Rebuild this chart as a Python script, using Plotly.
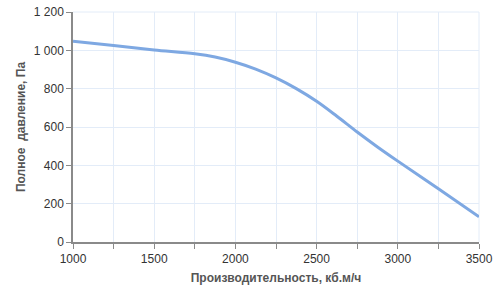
import plotly.graph_objects as go

flow = [1000, 1250, 1500, 1750, 1875, 2000, 2125, 2250, 2375, 2500, 2625, 2750, 2875, 3000, 3250, 3500]
pressure = [1047, 1025, 1002, 982, 965, 938, 902, 856, 800, 734, 656, 574, 496, 422, 278, 132]

x_title = "Производительность, кб.м/ч"
y_title = "Полное  давление, Па"

fig = go.Figure()
fig.add_trace(go.Scatter(x=flow, y=pressure, mode="lines",
                         line=dict(color="#7ea8e2", width=3, shape="spline", smoothing=1),
                         hoverinfo="skip"))

grid = "#e3ecf8"
axcol = "#8a8a8a"
fig.update_layout(
    width=500, height=294,
    margin=dict(l=73, r=21, t=12, b=52),
    paper_bgcolor="white", plot_bgcolor="white",
    separators=", ",
    showlegend=False,
    font=dict(family="Liberation Sans, Arial, sans-serif", size=12, color="#333333"),
    xaxis=dict(range=[1000, 3500], dtick=500, tick0=1000, tickformat="d",
               automargin=False,
               showgrid=True, gridcolor=grid, gridwidth=1,
               showline=True, linecolor=axcol, linewidth=1.5,
               ticks="outside", ticklen=5, tickcolor=axcol,
               minor=dict(dtick=250, showgrid=True, gridcolor=grid,
                          ticks="outside", ticklen=5, tickcolor=axcol),
               zeroline=False,
               title=dict(text="<b>" + x_title + "</b>", font=dict(size=12, color="#555555"), standoff=8)),
    yaxis=dict(range=[0, 1200], dtick=200, tickformat=",d",
               automargin=False,
               showgrid=True, gridcolor=grid, gridwidth=1,
               showline=True, linecolor=axcol, linewidth=1.5,
               ticks="outside", ticklen=5, tickcolor=axcol,
               zeroline=False,
               title=dict(text="<b>" + y_title + "</b>", font=dict(size=12, color="#555555"), standoff=6)),
)
fig.add_shape(type="line", xref="paper", yref="paper", x0=0, x1=1, y0=1, y1=1,
              line=dict(color=grid, width=1), layer="below")
fig.add_shape(type="line", xref="paper", yref="paper", x0=1, x1=1, y0=0, y1=1,
              line=dict(color=grid, width=1), layer="below")

fig.write_html("out.html")
